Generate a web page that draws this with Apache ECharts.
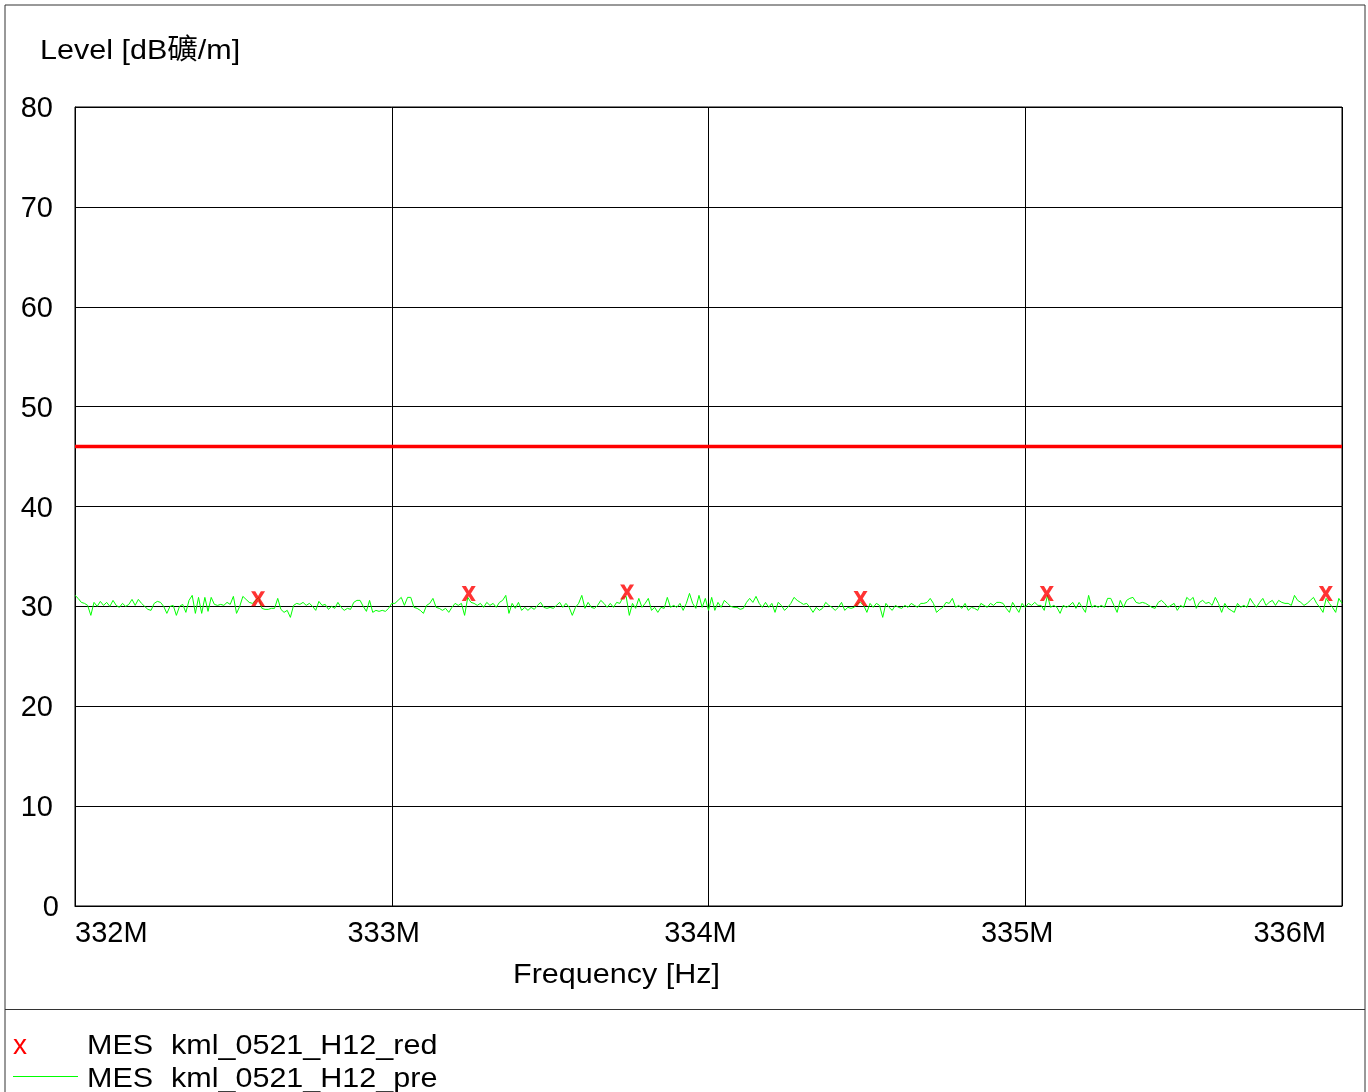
<!DOCTYPE html>
<html><head><meta charset="utf-8">
<script src="https://cdn.jsdelivr.net/npm/echarts@6/dist/echarts.min.js"></script>
<style>html,body{margin:0;padding:0;background:#fff}#c{width:1368px;height:1092px}</style>
</head><body><div id="c"></div>
<script>
// Frequency sweep (MHz)
const sweepStartMHz = 332;
const sweepStepMHz = 0.01;
// Preview trace levels (dBµV/m)
const previewLevels = [
31.1,30.8,30.4,30.3,30.1,29.1,30.4,30.0,30.5,30.1,
30.4,30.0,30.6,30.1,29.9,30.3,30.0,30.2,30.7,30.1,
30.7,30.3,30.0,29.7,29.6,30.3,30.5,30.4,30.0,29.3,
30.0,30.1,29.1,30.0,30.2,29.4,30.6,31.1,29.3,30.9,
29.3,30.9,29.5,30.9,30.2,30.1,30.2,30.1,30.4,30.2,
31.0,29.3,30.0,31.0,30.7,30.4,30.3,30.6,30.9,29.8,
29.7,29.7,29.8,29.8,30.8,29.7,29.4,29.6,28.9,30.1,
30.3,30.2,30.4,30.1,30.3,30.0,29.6,30.5,30.1,30.2,
29.7,30.0,29.8,30.4,29.9,29.6,29.8,29.7,30.4,30.6,
30.6,30.0,29.5,30.6,29.4,29.6,29.5,29.6,29.5,29.8,
30.3,30.3,30.6,30.9,30.1,30.9,30.9,29.9,29.8,29.6,
29.3,30.1,30.3,30.8,29.9,29.8,29.6,29.8,29.4,29.9,
30.3,30.1,30.3,29.1,30.9,30.4,30.3,30.1,30.3,29.9,
30.4,30.1,30.3,29.9,30.4,30.6,31.1,29.3,30.3,29.8,
30.4,29.6,29.9,29.6,29.9,29.7,30.1,30.4,29.9,29.8,
29.9,29.8,30.1,30.4,29.9,30.3,29.9,29.1,29.9,30.3,
31.1,29.8,30.4,29.9,29.8,30.1,30.6,30.3,29.9,30.3,
29.9,30.4,30.3,30.9,31.0,29.1,30.3,29.8,30.8,29.9,
30.3,30.8,29.6,29.9,29.4,29.9,29.8,30.9,29.9,30.1,
29.9,30.3,29.6,30.3,31.3,30.3,29.8,31.1,29.9,30.8,
29.6,30.9,29.6,30.4,29.9,30.6,30.3,30.0,29.9,29.9,
29.7,29.8,30.4,30.8,30.4,31.0,30.3,29.9,30.4,29.9,
30.3,29.4,30.4,30.1,29.6,29.9,30.3,30.9,30.6,30.4,
30.2,30.3,29.9,29.4,29.9,29.6,29.8,30.4,30.1,29.9,
29.6,29.9,30.4,29.6,29.9,29.8,29.9,30.3,30.4,30.1,
29.4,30.3,29.9,30.3,30.1,28.9,30.3,29.9,29.6,30.1,
29.9,29.8,30.1,29.9,30.3,30.1,29.9,30.3,30.3,30.4,
30.8,30.3,29.4,29.7,29.9,30.4,30.3,30.8,29.9,30.1,
29.8,30.3,29.6,29.9,29.8,29.6,30.3,30.1,29.9,30.3,
30.1,30.4,30.4,30.3,29.8,29.4,30.4,29.9,29.4,30.3,
29.9,30.3,30.1,30.4,30.1,30.1,29.6,31.1,29.9,30.1,
29.9,29.3,30.1,29.9,30.1,30.4,29.8,30.4,29.9,29.4,
31.1,29.9,30.1,29.9,30.1,29.9,30.8,30.8,30.1,29.4,
30.6,29.9,30.6,30.8,30.9,30.4,30.3,30.4,30.3,30.1,
29.9,29.8,30.4,30.6,30.3,29.9,30.1,30.3,29.6,30.1,
29.9,30.9,30.6,30.9,29.8,30.4,30.6,30.3,30.4,30.1,
30.9,30.3,29.4,30.3,29.8,29.6,29.4,30.3,29.9,30.1,
29.9,30.8,30.3,29.9,30.4,30.8,30.1,30.4,30.6,30.1,
30.6,30.4,30.3,30.3,30.1,31.1,30.6,30.4,30.1,30.3,
30.6,30.9,30.3,29.9,29.4,30.8,30.3,29.9,29.4,30.8,
30.3
];
// Final measurement markers
const markerFreqs = [332.578, 333.243, 333.743, 334.480, 335.068, 335.949];
const markerLevels = [30.77, 31.29, 31.45, 30.79, 31.29, 31.29];
// Limit line
const limitFreqs = [332, 336];
const limitLevel = 46;
// Axis ticks
const xMin = 332, xMax = 336, xStep = 1;
const yMin = 0, yMax = 80, yStep = 10;
const yTitle = 'Level [dB礦/m]';
const xTitle = 'Frequency [Hz]';
const legendNames = ['MES', 'kml_0521_H12_red', 'kml_0521_H12_pre'];

const previewData = previewLevels.map((v, i) => [+(sweepStartMHz + i * sweepStepMHz).toFixed(2), v]);
const markerData = markerFreqs.map((f, i) => [f, markerLevels[i]]);
const limitData = limitFreqs.map(f => [f, limitLevel]);

const FONT = '"Liberation Sans", Arial, "Noto Sans CJK SC", sans-serif';
const xPath = 'path://M0,0 L3,0 L5,3.2 L7,0 L10,0 L6.6,5 L10,10 L7,10 L5,6.8 L3,10 L0,10 L3.4,5 Z';
const SX = 1.09;

function txt(text, x, y, color, size, align) {
  return {type: 'text', x: x, y: y, scaleX: SX, originX: 0, originY: 0, silent: true,
    style: {text: text, fill: color, font: size + 'px ' + FONT, align: align || 'left', verticalAlign: 'middle'}};
}

const chart = echarts.init(document.getElementById('c'), null, {renderer: 'canvas'});
chart.setOption({
  animation: false,
  backgroundColor: '#fff',
  textStyle: {fontFamily: FONT},
  grid: {left: 75, top: 107, right: 26, bottom: 186, show: true, borderColor: '#000', borderWidth: 1, backgroundColor: 'transparent'},
  xAxis: {
    type: 'value', min: xMin, max: xMax, interval: xStep,
    axisLine: {show: true, lineStyle: {color: '#000', width: 1}},
    axisTick: {show: false},
    splitLine: {show: true, lineStyle: {color: '#000', width: 1}},
    axisLabel: {
      color: '#000', fontSize: 29, fontFamily: FONT, margin: 13,
      padding: [0, 16, 0, 0],
      alignMinLabel: 'left', alignMaxLabel: 'right',
      formatter: v => v + 'M'
    }
  },
  yAxis: {
    type: 'value', min: yMin, max: yMax, interval: yStep,
    axisLine: {show: true, lineStyle: {color: '#000', width: 1}},
    axisTick: {show: false},
    splitLine: {show: true, lineStyle: {color: '#000', width: 1}},
    axisLabel: {
      color: '#000', fontSize: 29, fontFamily: FONT, margin: 16,
      formatter: v => v === 0 ? '{z|0}' : '{n|' + v + '}',
      rich: {
        z: {fontSize: 29, fontFamily: FONT, color: '#000', padding: [4, 0, 0, 0]},
        n: {fontSize: 29, fontFamily: FONT, color: '#000', padding: [4, 6, 0, 0]}
      }
    }
  },
  series: [
    {type: 'line', data: previewData, symbol: 'none', lineStyle: {color: '#00ff00', width: 1}, z: 3},
    {type: 'line', data: limitData, symbol: 'none', lineStyle: {color: '#ff0000', width: 3.5}, z: 4},
    {type: 'scatter', data: markerData, symbol: xPath, symbolSize: [14, 15], itemStyle: {color: '#ff0000'}, z: 5}
  ],
  graphic: [
    {type: 'rect', shape: {x: 5, y: 5, width: 1360, height: 1120}, style: {fill: 'none', stroke: '#333', lineWidth: 1}, silent: true},
    {type: 'line', shape: {x1: 5, y1: 1009.5, x2: 1365, y2: 1009.5}, style: {stroke: '#333', lineWidth: 1}},
    txt(yTitle, 40, 51.5, '#000', 28),
    txt(xTitle, 513, 975.5, '#000', 28),
    {type: 'text', x: 20, y: 1046.5, silent: true, style: {text: 'x', fill: '#ff0000', font: '28px ' + FONT, align: 'center', verticalAlign: 'middle'}},
    {type: 'line', shape: {x1: 13, y1: 1076.5, x2: 78, y2: 1076.5}, style: {stroke: '#00ff00', lineWidth: 1}},
    txt(legendNames[0], 87, 1046, '#000', 28),
    txt(legendNames[1], 171, 1046, '#000', 28),
    txt(legendNames[0], 87, 1079.5, '#000', 28),
    txt(legendNames[2], 171, 1079.5, '#000', 28)
  ]
});
</script>
</body></html>
